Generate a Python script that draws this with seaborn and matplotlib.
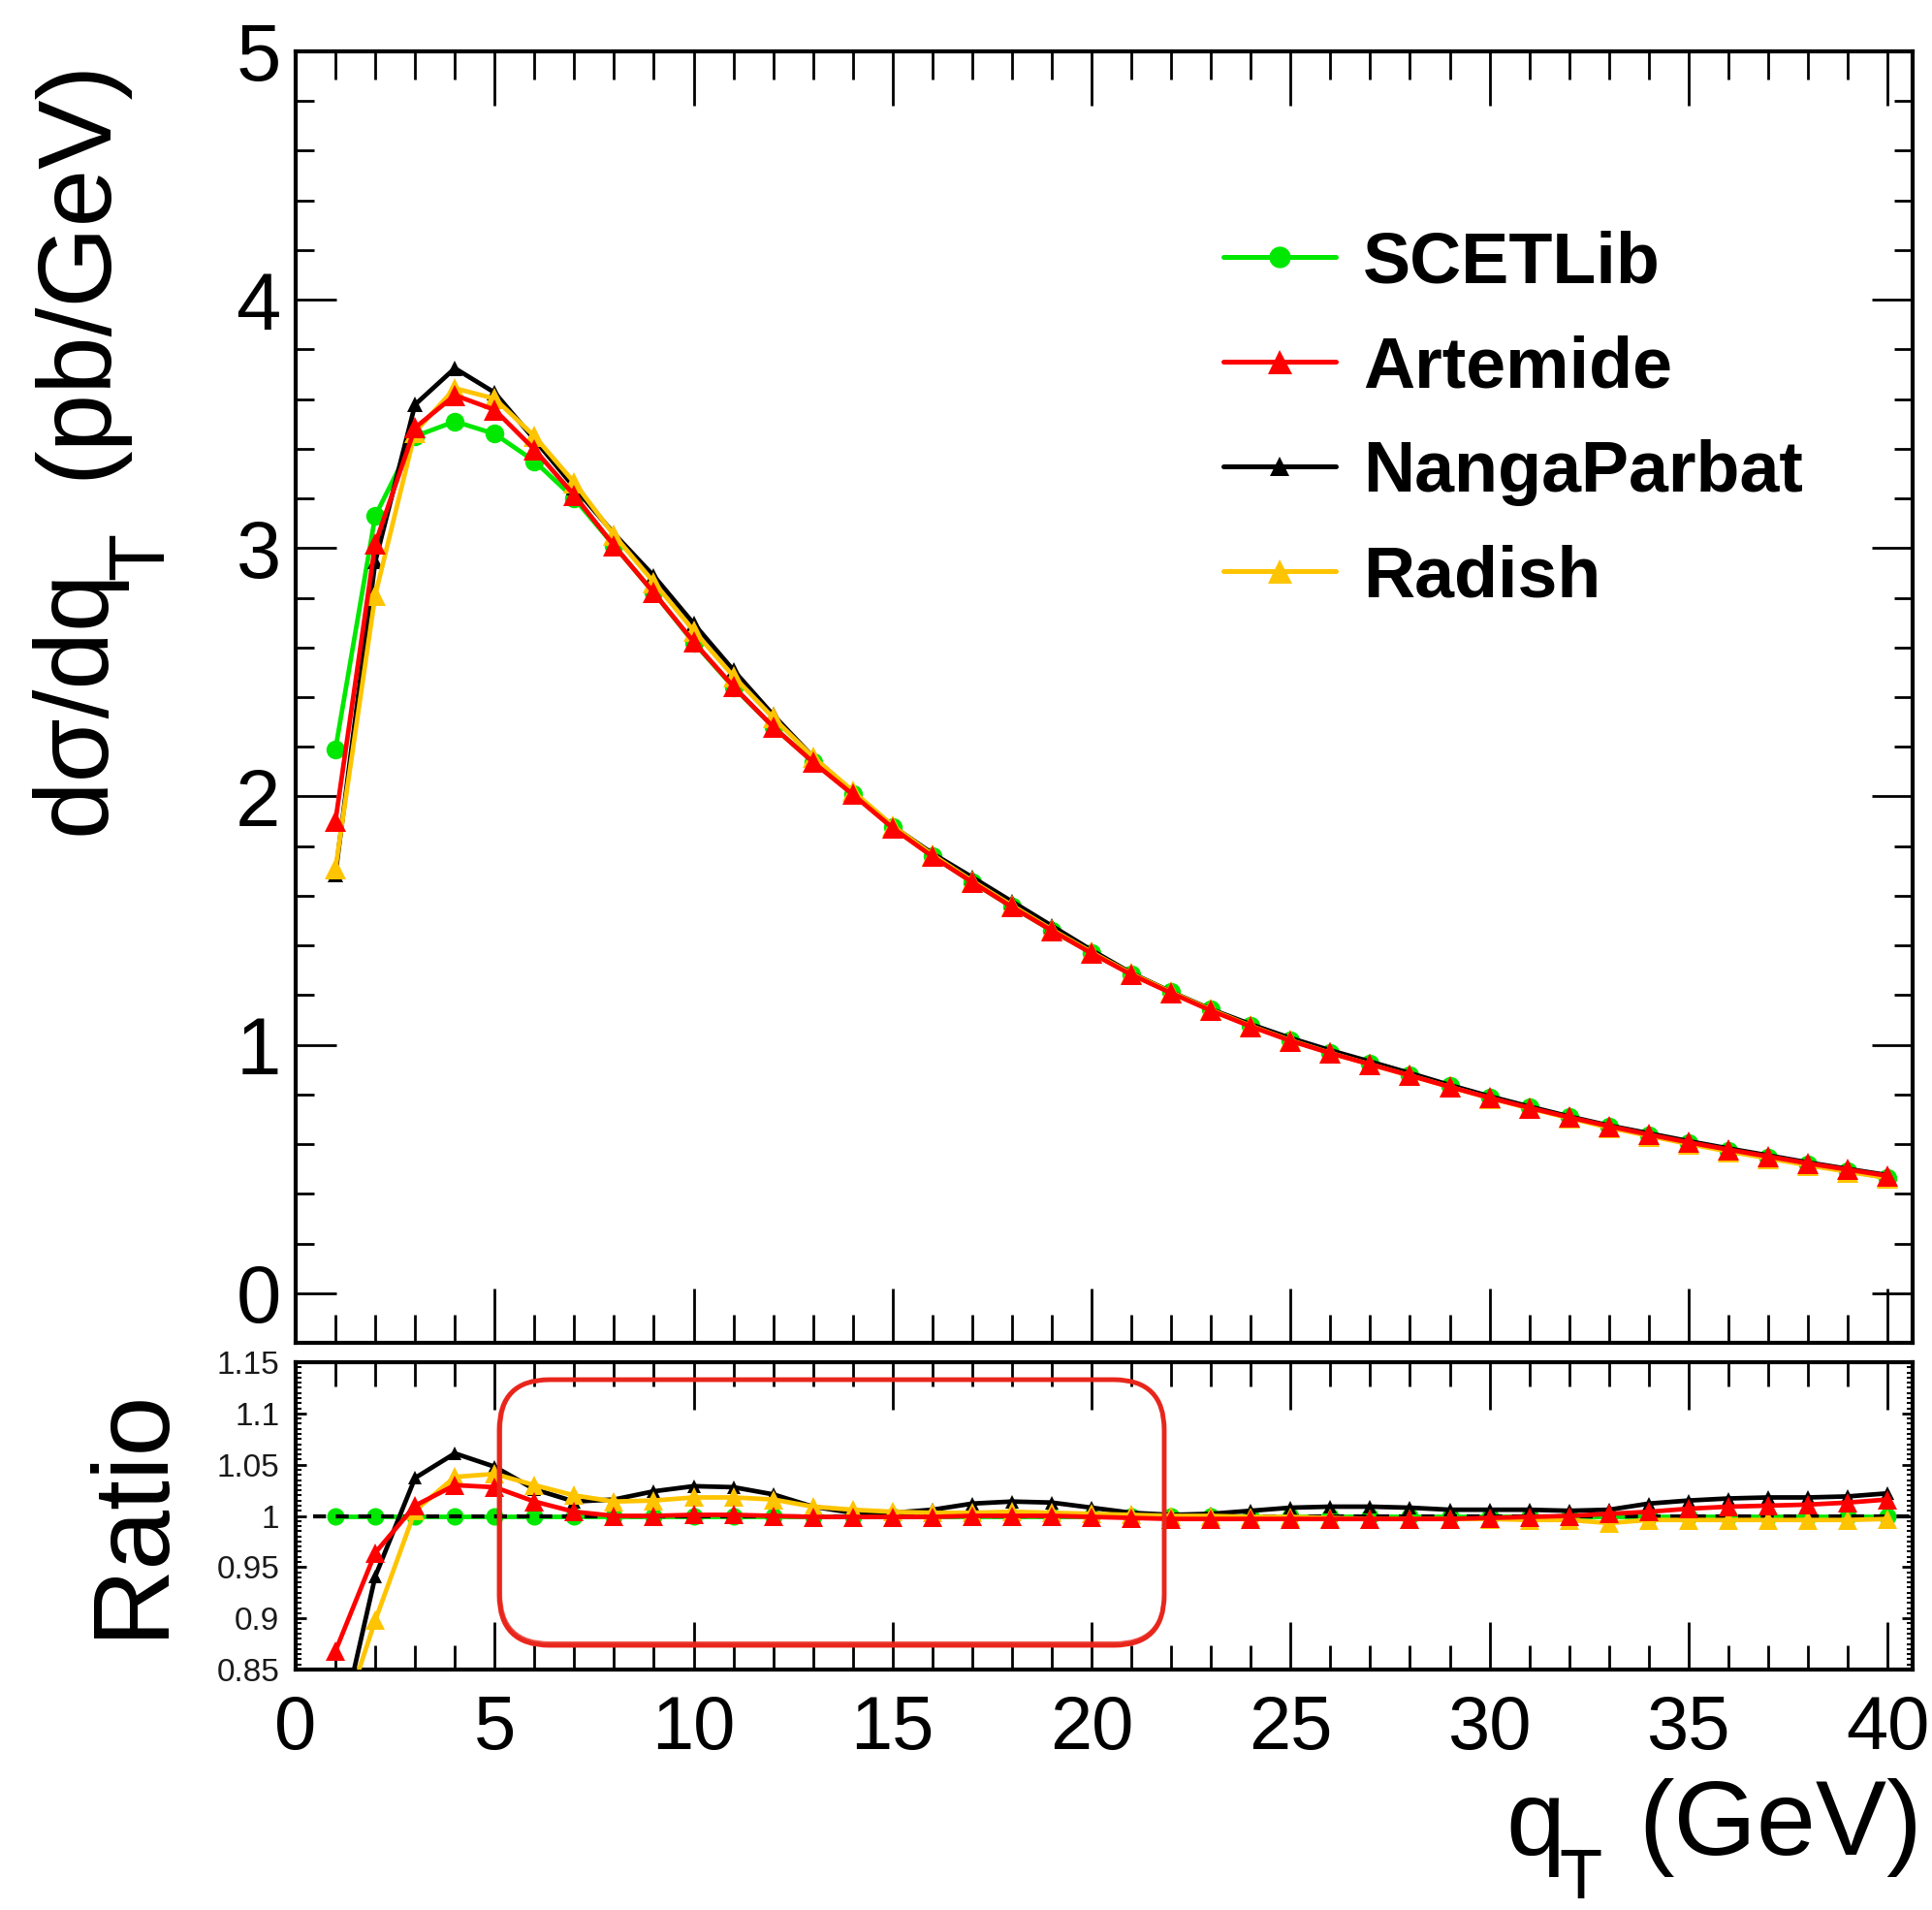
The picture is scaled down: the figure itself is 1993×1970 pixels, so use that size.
import matplotlib
matplotlib.use("Agg")
import matplotlib.pyplot as plt
from matplotlib.ticker import MultipleLocator
from matplotlib.patches import FancyBboxPatch
from matplotlib.lines import Line2D
import numpy as np
import pandas as pd
import seaborn as sns

# q_T bin centres (GeV)
qt = list(range(1, 41))

# SCETLib prediction, d sigma / d q_T (pb/GeV)
scetlib = [2.19, 3.13, 3.45, 3.51, 3.46, 3.35, 3.20, 3.01, 2.82, 2.62,
           2.44, 2.28, 2.14, 2.01, 1.875, 1.76, 1.655, 1.555, 1.46, 1.37,
           1.285, 1.212, 1.141, 1.077, 1.019, 0.969, 0.924, 0.879, 0.833, 0.788,
           0.747, 0.708, 0.671, 0.636, 0.603, 0.573, 0.545, 0.517, 0.491, 0.465]

# ratios to SCETLib
ratio_artemide = [0.868, 0.964, 1.010, 1.030, 1.028, 1.014, 1.004, 1.000, 1.000, 1.001,
                  1.001, 1.000, 0.999, 0.999, 0.999, 0.999, 1.000, 1.000, 1.000, 0.999,
                  0.998, 0.997, 0.997, 0.997, 0.997, 0.997, 0.997, 0.997, 0.997, 0.998,
                  0.999, 1.000, 1.002, 1.004, 1.007, 1.009, 1.010, 1.011, 1.013, 1.016]
ratio_nangaparbat = [0.770, 0.941, 1.037, 1.061, 1.048, 1.026, 1.014, 1.016, 1.024, 1.029,
                     1.028, 1.021, 1.009, 1.003, 1.003, 1.006, 1.012, 1.014, 1.013, 1.008,
                     1.003, 1.001, 1.002, 1.005, 1.008, 1.009, 1.009, 1.008, 1.006, 1.006,
                     1.006, 1.005, 1.006, 1.012, 1.015, 1.017, 1.018, 1.018, 1.019, 1.022]
ratio_radish = [0.780, 0.898, 1.005, 1.038, 1.041, 1.030, 1.020, 1.014, 1.015, 1.018,
                1.018, 1.016, 1.009, 1.006, 1.004, 1.003, 1.003, 1.004, 1.003, 1.002,
                1.001, 1.000, 1.000, 0.999, 0.999, 0.998, 0.997, 0.997, 0.997, 0.997,
                0.996, 0.996, 0.993, 0.996, 0.996, 0.996, 0.996, 0.996, 0.996, 0.997]

models = ["SCETLib", "Artemide", "NangaParbat", "Radish"]
colors = {"SCETLib": "#00e800", "Artemide": "#ff0000",
          "NangaParbat": "#000000", "Radish": "#ffc400"}
markers = {"SCETLib": "o", "Artemide": "^", "NangaParbat": "^", "Radish": "^"}
msize_main = {"SCETLib": 14, "Artemide": 16, "NangaParbat": 11, "Radish": 16}
msize_ratio = {"SCETLib": 13, "Artemide": 14, "NangaParbat": 10, "Radish": 14}
msize_leg = {"SCETLib": 16, "Artemide": 18, "NangaParbat": 15, "Radish": 18}
draw_order = ["SCETLib", "NangaParbat", "Radish", "Artemide"]

ratios = {"SCETLib": [1.0] * len(qt), "Artemide": ratio_artemide,
          "NangaParbat": ratio_nangaparbat, "Radish": ratio_radish}

frames = []
for m in models:
    r = np.array(ratios[m])
    frames.append(pd.DataFrame({"qT": qt, "model": m, "ratio": r,
                                "xsec": np.array(scetlib) * r}))
df = pd.concat(frames, ignore_index=True)

sns.set_theme(style="ticks")
plt.rcParams["font.family"] = ["Liberation Sans", "DejaVu Sans"]
plt.rcParams["text.color"] = "black"
plt.rcParams["axes.labelcolor"] = "black"
plt.rcParams["xtick.color"] = "black"
plt.rcParams["ytick.color"] = "black"

W, H = 1993, 1970
fig = plt.figure(figsize=(W / 100, H / 100), dpi=100)
fig.patch.set_facecolor("white")

ax1 = fig.add_axes([305 / W, 1 - 1385 / H, 1668 / W, 1332 / H])
ax2 = fig.add_axes([305 / W, 1 - 1722 / H, 1668 / W, 317 / H])

for m in draw_order:
    sub = df[df["model"] == m]
    z = 2 if m == "SCETLib" else 3
    sns.lineplot(data=sub, x="qT", y="xsec", ax=ax1, color=colors[m],
                 marker=markers[m], markersize=msize_main[m], markeredgewidth=0,
                 linewidth=3.4, legend=False, zorder=z)
    sns.lineplot(data=sub, x="qT", y="ratio", ax=ax2, color=colors[m],
                 marker=markers[m], markersize=msize_ratio[m], markeredgewidth=0,
                 linewidth=3.4, legend=False, zorder=z)

ax2.axhline(1.0, xmin=0.011, xmax=1, color="black", lw=3.0,
            ls=(0, (3.2, 2.4)), zorder=2.5)

xmax = 40.63
for ax in (ax1, ax2):
    ax.set_xlim(0, xmax)
    ax.set_xlabel("")
    ax.set_ylabel("")
    ax.xaxis.set_major_locator(MultipleLocator(5))
    ax.xaxis.set_minor_locator(MultipleLocator(1))
    for s in ax.spines.values():
        s.set_visible(True)
        s.set_linewidth(3.0)
        s.set_color("black")
    ax.set_facecolor("white")
    ax.grid(False)

ax1.set_ylim(-0.2, 5.0)
ax1.yaxis.set_major_locator(MultipleLocator(1))
ax1.yaxis.set_minor_locator(MultipleLocator(0.2))
ax1.tick_params(axis="x", which="major", direction="in", length=40, width=2,
                top=True, bottom=True, labelbottom=False)
ax1.tick_params(axis="x", which="minor", direction="in", length=21, width=2,
                top=True, bottom=True)
ax1.tick_params(axis="y", which="major", direction="in", length=30, width=2,
                left=True, right=True, labelsize=60, pad=11, labelcolor="black")
ax1.tick_params(axis="y", which="minor", direction="in", length=14, width=2,
                left=True, right=True)

ax2.set_ylim(0.85, 1.15)
ax2.set_yticks([0.85, 0.9, 0.95, 1.0, 1.05, 1.1, 1.15])
ax2.set_yticklabels(["0.85", "0.9", "0.95", "1", "1.05", "1.1", "1.15"])
ax2.yaxis.set_minor_locator(MultipleLocator(0.005))
ax2.set_xticks(list(range(0, 41, 5)))
ax2.set_xticklabels([str(v) for v in range(0, 41, 5)])
ax2.tick_params(axis="x", which="major", direction="in", length=35, width=2,
                top=True, bottom=True, labelsize=56, pad=18, labelcolor="black")
ax2.tick_params(axis="x", which="minor", direction="in", length=18, width=2,
                top=True, bottom=True)
ax2.tick_params(axis="y", which="major", direction="in", length=8, width=2,
                left=True, right=True, labelsize=24, pad=12, labelcolor="#1a1a1a")
ax2.tick_params(axis="y", which="minor", direction="in", length=4, width=1.5,
                left=True, right=True)

# legend
handles = [Line2D([], [], color=colors[m], marker=markers[m],
                  markersize=msize_leg[m], markeredgewidth=0, lw=3.6)
           for m in models]
leg = ax1.legend(handles, models, loc="upper left",
                 bbox_to_anchor=(1262 / W, 1 - 237 / H),
                 bbox_transform=fig.transFigure, frameon=False,
                 prop={"family": "Liberation Sans", "weight": "bold", "size": 53},
                 handlelength=1.58, handletextpad=0.38, labelspacing=0.53,
                 borderpad=0, borderaxespad=0)
for t in leg.get_texts():
    t.set_color("black")

# y-axis title, written upward, with a lowered subscript
ytitle = dict(rotation=90, rotation_mode="anchor", ha="left", va="baseline")
fig.text(108 / W, 1 - 861 / H, "dσ/dq", fontsize=77, **ytitle)
fig.text(168 / W, 1 - 598 / H, "T", fontsize=58, **ytitle)
fig.text(108 / W, 1 - 494 / H, "(pb/GeV)", fontsize=77, **ytitle)

fig.text(85 / W, 1 - 1559 / H, "Ratio", rotation=90, ha="left", va="center",
         fontsize=80)

# x-axis title
fig.text(1553 / W, 1 - 1913 / H, "q", ha="left", va="baseline", fontsize=79)
fig.text(1608 / W, 1 - 1958 / H, "T", ha="left", va="baseline", fontsize=52)
fig.text(1983 / W, 1 - 1913 / H, "(GeV)", ha="right", va="baseline", fontsize=79)

# highlighted region in the ratio panel
box = FancyBboxPatch((515 / W, 1 - 1697 / H), 686 / W, 274 / H,
                     boxstyle="round,pad=0,rounding_size=0.026",
                     mutation_aspect=W / H, transform=fig.transFigure,
                     fill=False, ec="#e8261c", lw=3.5, zorder=10)
fig.patches.append(box)
box2 = FancyBboxPatch((517 / W, 1 - 1694 / H), 683 / W, 270 / H,
                      boxstyle="round,pad=0,rounding_size=0.025",
                      mutation_aspect=W / H, transform=fig.transFigure,
                      fill=False, ec="#e8261c", lw=1.5, alpha=0.8, zorder=10)
fig.patches.append(box2)

fig.savefig("out.png", dpi=100, facecolor="white")
